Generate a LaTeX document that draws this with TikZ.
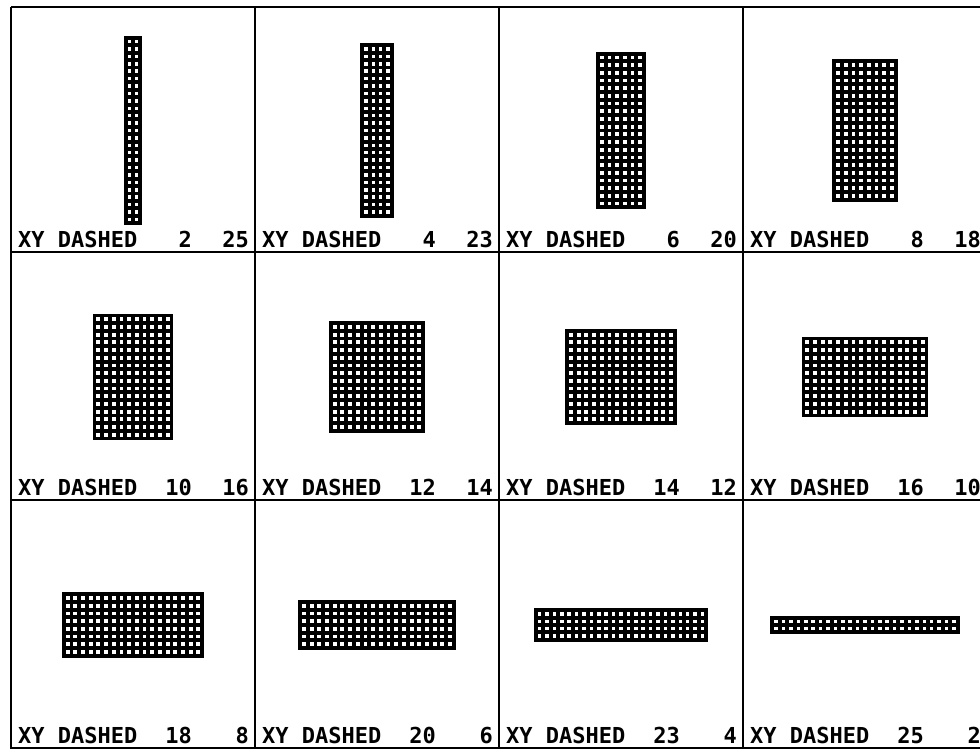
\documentclass[tikz,border=0pt]{standalone}
\usepackage{fontspec}
\newfontfamily\plotfont{DejaVu Sans Mono Bold}
\usetikzlibrary{calc}

\tikzset{
  frameline/.style={line width=1.8pt},
  gridline/.style={line width=3.9pt, line cap=rect},
  caption/.style={inner sep=0pt, anchor=base west},
  count/.style={inner sep=0pt, anchor=base east}
}

\begin{document}
\begin{tikzpicture}[x=1pt, y=-1pt, font=\plotfont\fontsize{22}{22}\selectfont]
  \useasboundingbox (0,0) rectangle (980,752);
  % frame of the 4 x 3 panels
  \draw[frameline] (11,7) -- (987,7);
  \draw[frameline] (11,7) -- (11,748) -- (987,748);
  \foreach \y in {252,500}
    \draw[frameline] (11,\y) -- (987,\y);
  \foreach \x in {255,499,743}
    \draw[frameline] (\x,7) -- (\x,748);
  % one panel: row / column / nx / ny
  \foreach \r/\c/\n/\m in {1/1/2/25, 1/2/4/23, 1/3/6/20, 1/4/8/18,
                           2/1/10/16, 2/2/12/14, 2/3/14/12, 2/4/16/10,
                           3/1/18/8, 3/2/20/6, 3/3/23/4, 3/4/25/2}{
    \pgfmathsetmacro\left{11+244*(\c-1)}
    \pgfmathsetmacro\top{ifthenelse(\r==1,7,ifthenelse(\r==2,252,500))}
    \pgfmathsetmacro\bottom{ifthenelse(\r==1,252,ifthenelse(\r==2,500,748))}
    \pgfmathsetmacro\cx{\left+122}
    \pgfmathsetmacro\cy{(\top+\bottom)/2+1}
    \pgfmathsetmacro\p{200/(\n+\m)}
    \pgfmathsetmacro\w{\n*\p/2}
    \pgfmathsetmacro\h{\m*\p/2}
    \foreach \i in {0,...,\n}
      \draw[gridline] (\cx-\w+\i*\p,\cy-\h) -- (\cx-\w+\i*\p,\cy+\h);
    \foreach \j in {0,...,\m}
      \draw[gridline] (\cx-\w,\cy-\h+\j*\p) -- (\cx+\w,\cy-\h+\j*\p);
    \node[caption] (lab-\r-\c) at (\left+7,\bottom-5) {XY DASHED};
    \node[count] (nx-\r-\c) at (\left+181,\bottom-5) {\n};
    \node[count] (ny-\r-\c) at (\left+238,\bottom-5) {\m};
  }
\end{tikzpicture}
\end{document}
